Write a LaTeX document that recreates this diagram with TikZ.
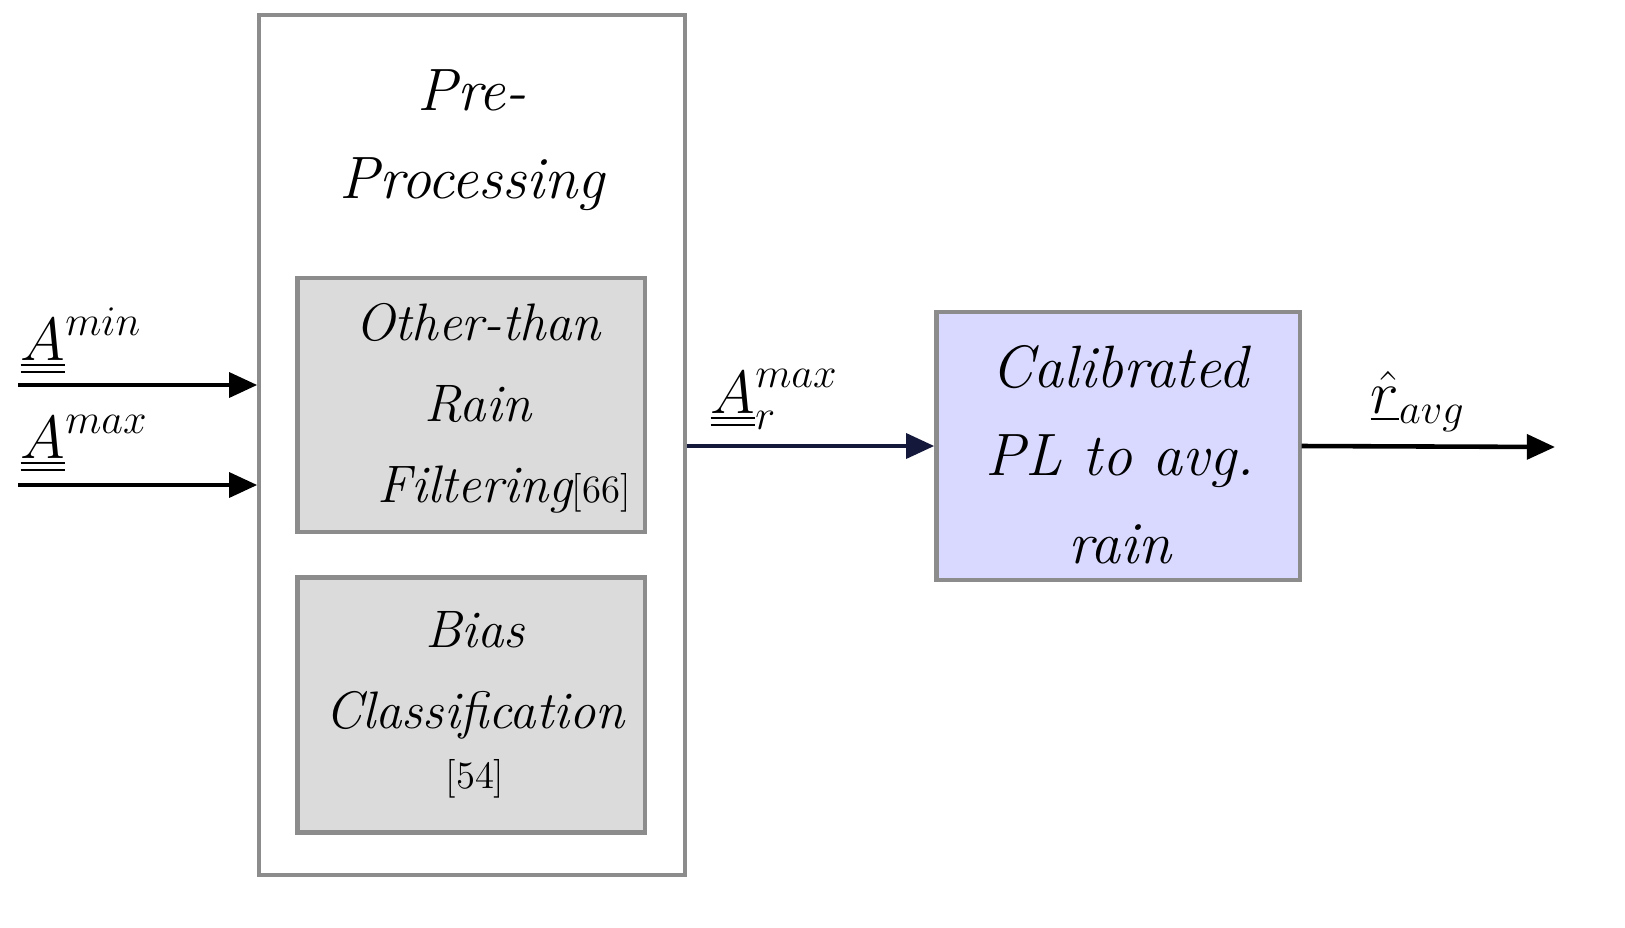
\documentclass[tikz,border=0pt]{standalone}
\usetikzlibrary{arrows.meta}
\begin{document}
\begin{tikzpicture}[x=0.01cm,y=-0.01cm,
  box/.style={draw=black!45,line width=1.2pt},
  inner/.style={box,fill=black!14},
  arr/.style={line width=1.3pt,-{Triangle[length=8pt,width=7pt]}},
  txt/.style={font=\fontsize{17}{25}\selectfont\itshape,align=center},
  lab/.style={font=\fontsize{17}{20}\selectfont,anchor=south west,inner sep=0}]
\useasboundingbox (0,0) rectangle (1625,927);
\fill[white] (0,0) rectangle (1625,927);
\node[box,minimum width=4.25cm,minimum height=8.6cm] (pre) at (472,445) {};
\node[txt] (pret) at (472,140) {Pre-\\Processing};
\node[inner,minimum width=3.47cm,minimum height=2.54cm] (f) at (471,405) {};
\node[txt,font=\fontsize{15}{23}\selectfont\itshape] at (478,408) {Other-than\\Rain\\\hspace*{1em}Filtering{\upshape\fontsize{11}{12}\selectfont[66]}};
\node[inner,minimum width=3.47cm,minimum height=2.55cm] (b) at (471,705) {};
\node[txt,font=\fontsize{15}{23}\selectfont\itshape] at (475,705) {Bias\\Classification\\[-6pt]{\upshape\fontsize{11}{12}\selectfont[54]}};
\node[box,fill=blue!15,minimum width=3.63cm,minimum height=2.68cm] (cal) at (1118,446) {};
\node[txt] at (1120,455) {Calibrated\\PL to avg.\\rain};
\coordinate (i1) at (18,385); \coordinate (i2) at (18,485);
\coordinate (out) at (1555,447);
\draw[arr] (i1) -- (i1-|pre.west);
\draw[arr] (i2) -- (i2-|pre.west);
\draw[arr,draw={rgb,255:red,20;green,25;blue,60},fill={rgb,255:red,20;green,25;blue,60}] (pre.east|-cal.west) -- (cal.west);
\draw[arr] (cal.east) -- (out);
\node[lab] (l1) at (20,375) {$\underline{\underline{A}}^{min}$};
\node[lab] (l2) at (20,473) {$\underline{\underline{A}}^{max}$};
\node[lab] (l3) at (710,430) {$\underline{\underline{A}}_r^{max}$};
\node[lab] (l4) at (1370,432) {$\underline{\hat{r}}_{avg}$};
\end{tikzpicture}
\end{document}
